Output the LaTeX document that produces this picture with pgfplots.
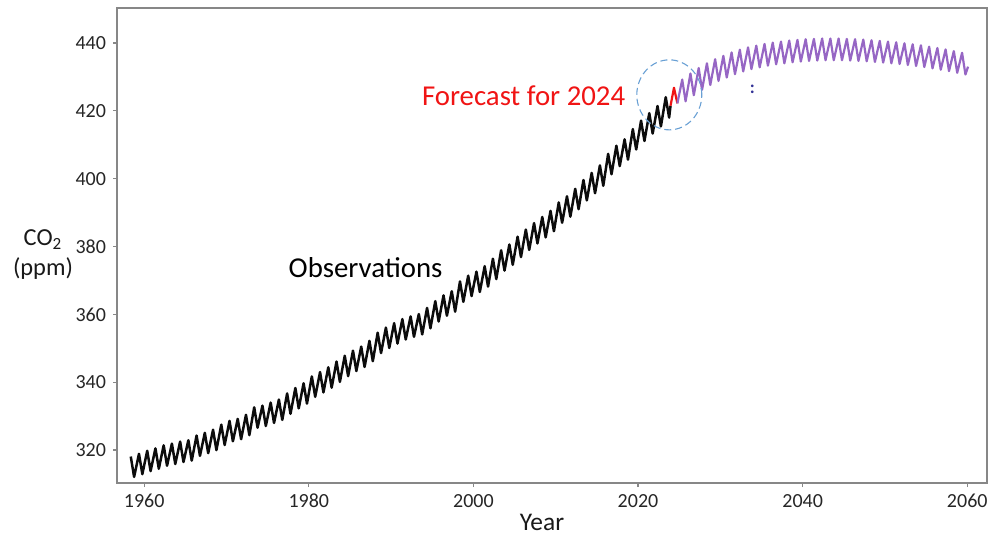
\documentclass[border=0pt]{standalone}
\usepackage{fontspec}
\setmainfont{Carlito}
\usepackage{pgfplots}
\pgfplotsset{compat=1.18}

\definecolor{obsblack}{RGB}{12,12,12}
\definecolor{fcred}{RGB}{240,20,20}
\definecolor{projpurple}{RGB}{150,102,196}
\definecolor{ringblue}{RGB}{105,160,212}
\definecolor{framegray}{RGB}{135,135,135}
\definecolor{inkblue}{RGB}{50,50,150}

\begin{document}
\begin{tikzpicture}
\begin{axis}[
  scale only axis,
  width=435pt, height=237.5pt,
  xmin=1956.7, xmax=2062.4,
  ymin=310.3, ymax=450.3,
  xtick={1960,1980,...,2060},
  ytick={320,340,...,440},
  /pgf/number format/1000 sep={},
  /pgf/number format/assume math mode=true,
  tick label style={font=\fontsize{10}{12}\selectfont, text=black!85},
  axis line style={framegray, line width=0.6pt},
  tick style={framegray, line width=0.6pt},
  tick align=outside,
  major tick length=2pt,
  xtick pos=bottom, ytick pos=left,
  clip=false,
]
% Mauna Loa observations: May maximum and October minimum of each year
\addplot[obsblack, line width=1.25pt, line join=round] coordinates {
(1958.37,318.1) (1958.78,312.1) (1959.37,318.9) (1959.78,312.9)
(1960.37,319.8) (1960.78,313.8) (1961.37,320.5) (1961.78,314.5)
(1962.37,321.4) (1962.78,315.4) (1963.37,321.9) (1963.78,315.9)
(1964.37,322.5) (1964.78,316.5) (1965.37,322.9) (1965.78,316.9)
(1966.37,324.3) (1966.78,318.3) (1967.37,325.1) (1967.78,319.1)
(1968.37,326.0) (1968.78,320.0) (1969.37,327.5) (1969.78,321.5)
(1970.37,328.6) (1970.78,322.6) (1971.37,329.2) (1971.78,323.2)
(1972.37,330.4) (1972.78,324.4) (1973.37,332.6) (1973.78,326.6)
(1974.37,333.1) (1974.78,327.1) (1975.37,334.0) (1975.78,328.0)
(1976.37,334.9) (1976.78,328.9) (1977.37,336.7) (1977.78,330.7)
(1978.37,338.3) (1978.78,332.3) (1979.37,339.7) (1979.78,333.7)
(1980.37,341.7) (1980.78,335.7) (1981.37,343.0) (1981.78,337.0)
(1982.37,344.4) (1982.78,338.4) (1983.37,346.1) (1983.78,340.1)
(1984.37,347.8) (1984.78,341.8) (1985.37,349.3) (1985.78,343.3)
(1986.37,350.5) (1986.78,344.5) (1987.37,352.2) (1987.78,346.2)
(1988.37,354.6) (1988.78,348.6) (1989.37,356.1) (1989.78,350.1)
(1990.37,357.4) (1990.78,351.4) (1991.37,358.6) (1991.78,352.6)
(1992.37,359.4) (1992.78,353.4) (1993.37,360.1) (1993.78,354.1)
(1994.37,361.9) (1994.78,355.9) (1995.37,363.9) (1995.78,357.9)
(1996.37,365.6) (1996.78,359.6) (1997.37,366.8) (1997.78,360.8)
(1998.37,369.7) (1998.78,363.7) (1999.37,371.4) (1999.78,365.4)
(2000.37,372.6) (2000.78,366.6) (2001.37,374.2) (2001.78,368.2)
(2002.37,376.4) (2002.78,370.4) (2003.37,378.9) (2003.78,372.9)
(2004.37,380.6) (2004.78,374.6) (2005.37,382.9) (2005.78,376.9)
(2006.37,385.0) (2006.78,379.0) (2007.37,386.9) (2007.78,380.9)
(2008.37,388.7) (2008.78,382.7) (2009.37,390.5) (2009.78,384.5)
(2010.37,393.0) (2010.78,387.0) (2011.37,394.8) (2011.78,388.8)
(2012.37,397.0) (2012.78,391.0) (2013.37,399.6) (2013.78,393.6)
(2014.37,401.7) (2014.78,395.7) (2015.37,403.9) (2015.78,397.9)
(2016.37,407.3) (2016.78,401.3) (2017.37,409.7) (2017.78,403.7)
(2018.37,411.6) (2018.78,405.6) (2019.37,414.6) (2019.78,408.6)
(2020.37,417.1) (2020.78,411.1) (2021.37,419.3) (2021.78,413.3)
(2022.37,421.4) (2022.78,415.4) (2023.37,424.0) (2023.78,418.0)
(2023.95,421.5)
};
% Forecast for 2024
\addplot[fcred, line width=1.1pt, line join=round] coordinates {
(2023.95,421.5) (2024.37,426.8) (2024.78,422.2)
};
% Projection to 2060
\addplot[projpurple, line width=1.1pt, line join=round] coordinates {
(2024.78,422.2)
(2025.37,429.2) (2025.78,422.8) (2026.37,431.0) (2026.78,424.6)
(2027.37,432.6) (2027.78,426.2) (2028.37,434.0) (2028.78,427.6)
(2029.37,435.2) (2029.78,428.8) (2030.37,436.2) (2030.78,429.8)
(2031.37,437.2) (2031.78,430.8) (2032.37,438.0) (2032.78,431.6)
(2033.37,438.7) (2033.78,432.3) (2034.37,439.2) (2034.78,432.8)
(2035.37,439.7) (2035.78,433.3) (2036.37,440.1) (2036.78,433.7)
(2037.37,440.4) (2037.78,434.0) (2038.37,440.7) (2038.78,434.3)
(2039.37,440.9) (2039.78,434.5) (2040.37,441.1) (2040.78,434.7)
(2041.37,441.2) (2041.78,434.8) (2042.37,441.3) (2042.78,434.9)
(2043.37,441.3) (2043.78,434.9) (2044.37,441.3) (2044.78,434.9)
(2045.37,441.2) (2045.78,434.8) (2046.37,441.1) (2046.78,434.7)
(2047.37,441.0) (2047.78,434.6) (2048.37,440.8) (2048.78,434.4)
(2049.37,440.6) (2049.78,434.2) (2050.37,440.4) (2050.78,434.0)
(2051.37,440.2) (2051.78,433.8) (2052.37,439.9) (2052.78,433.5)
(2053.37,439.6) (2053.78,433.2) (2054.37,439.3) (2054.78,432.9)
(2055.37,438.9) (2055.78,432.5) (2056.37,438.5) (2056.78,432.1)
(2057.37,438.1) (2057.78,431.7) (2058.37,437.6) (2058.78,431.2)
(2059.37,437.1) (2059.78,430.7) (2060.10,433.0)
};
% dashed ring around the 2024 forecast
\draw[ringblue, line width=0.55pt, dash pattern=on 3.5pt off 2pt]
  (axis cs:2023.8,424.7) ellipse [x radius=16.25pt, y radius=17.5pt];
\node[fcred, font=\fontsize{14.4}{16}\selectfont] at (axis cs:2006.1,424.4) {Forecast for 2024};
\node[black, font=\fontsize{14.4}{16}\selectfont] at (axis cs:1986.9,373.9) {Observations};
\node[inkblue, font=\fontsize{9}{10}\selectfont\bfseries] at (axis cs:2033.9,426.2) {:};
\end{axis}
\node[align=center, text=black!90, font=\fontsize{12.2}{15}\selectfont]
  at ([xshift=-37pt, yshift=-4.75pt]current axis.west) {CO\textsubscript{2}\\(ppm)};
\node[text=black!90, font=\fontsize{12.7}{14}\selectfont, inner sep=1pt]
  at ([xshift=-5pt, yshift=-19.5pt]current axis.south) {Year};
\pgfresetboundingbox
\useasboundingbox ([shift={(-58.5pt,-26pt)}]current axis.south west)
  rectangle ([shift={(3.5pt,4pt)}]current axis.north east);
\end{tikzpicture}
\end{document}
